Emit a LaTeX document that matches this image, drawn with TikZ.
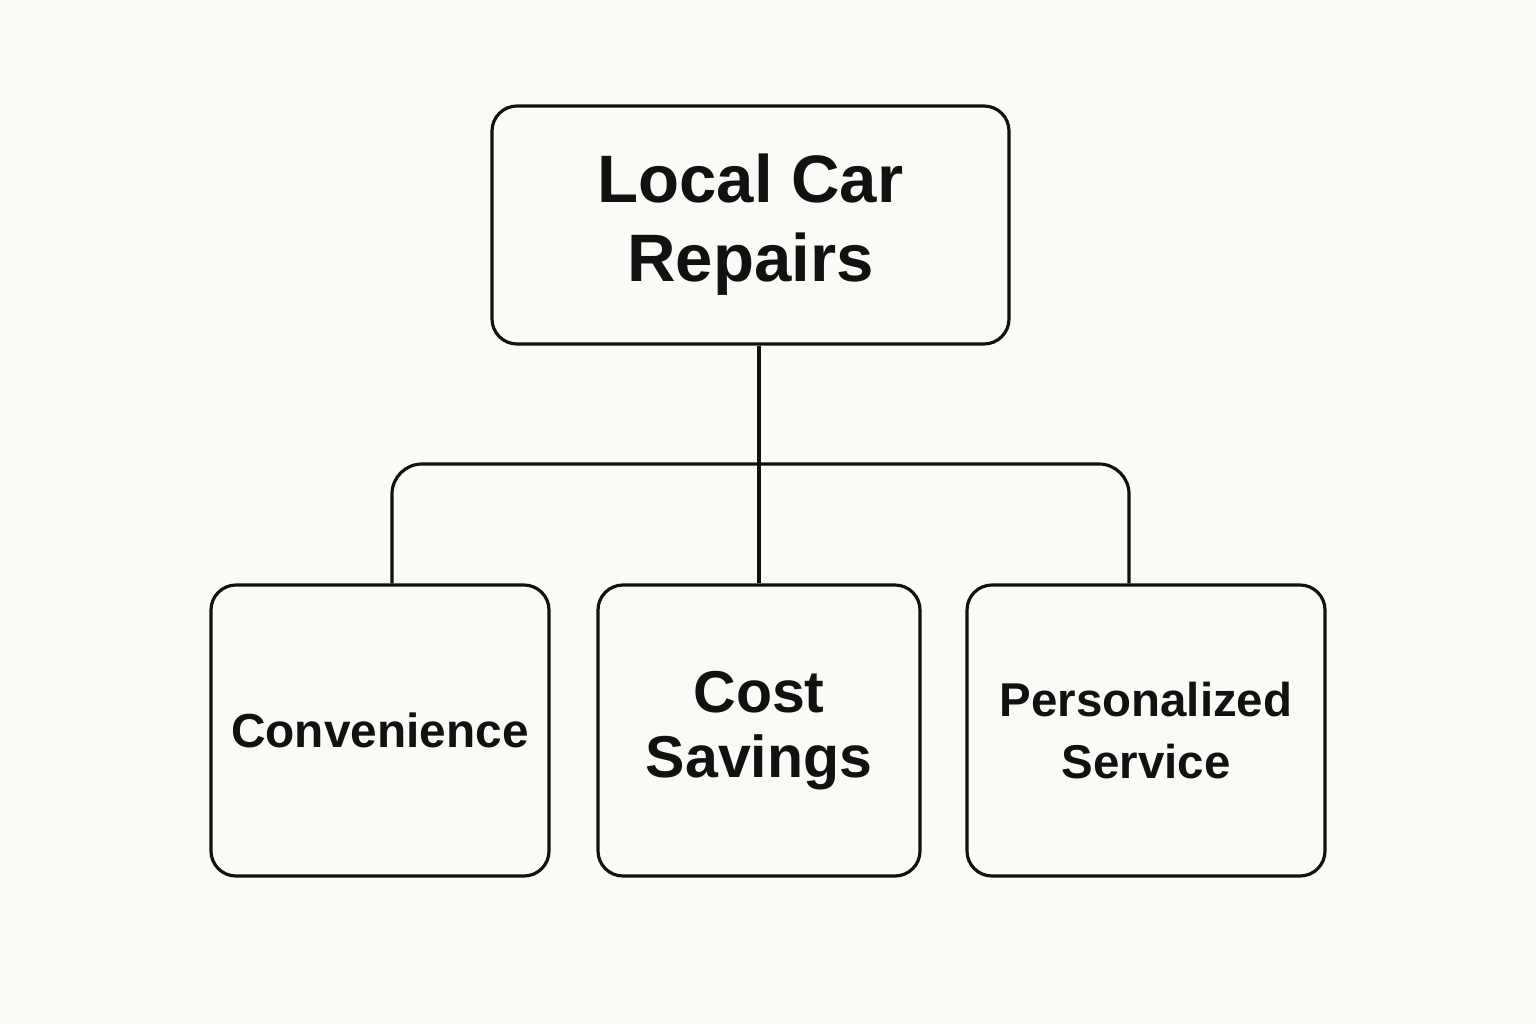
\documentclass[tikz,border=0pt]{standalone}
\usepackage{fontspec}
\setmainfont{Liberation Sans}
\definecolor{paper}{HTML}{FBFAF6}
\definecolor{ink}{HTML}{111111}
\tikzset{
  box/.style={draw=ink, line width=0.9pt, rounded corners=0.25cm, align=center, inner sep=0pt, text=ink},
  link/.style={draw=ink, line width=0.9pt}
}
\begin{document}
\begin{tikzpicture}
\fill[paper] (0,0) rectangle (15.36,10.24);
\useasboundingbox (0,0) rectangle (15.36,10.24);
\node[box, minimum width=5.17cm, minimum height=2.38cm, font=\fontsize{19.1}{22.5}\selectfont\bfseries] at (7.505,7.99) (top) {Local Car\\Repairs};
\node[box, minimum width=3.38cm, minimum height=2.91cm, font=\fontsize{13.6}{17.5}\selectfont\bfseries] at (3.80,2.935) (conv) {Convenience};
\node[box, minimum width=3.22cm, minimum height=2.91cm, font=\fontsize{16.8}{18.5}\selectfont\bfseries] at (7.59,2.935) (cost) {Cost\\Savings};
\node[box, minimum width=3.58cm, minimum height=2.91cm, font=\fontsize{13.5}{17.6}\selectfont\bfseries] at (11.46,2.935) (serv) {Personalized\\Service};
\coordinate (bar) at (7.60,5.60);
\draw[link] (cost.north |- top.south) -- (cost.north);
\draw[link, rounded corners=0.3cm] ([xshift=0.12cm]conv.north) |- (bar) -| ([xshift=-0.17cm]serv.north);
\end{tikzpicture}
\end{document}
